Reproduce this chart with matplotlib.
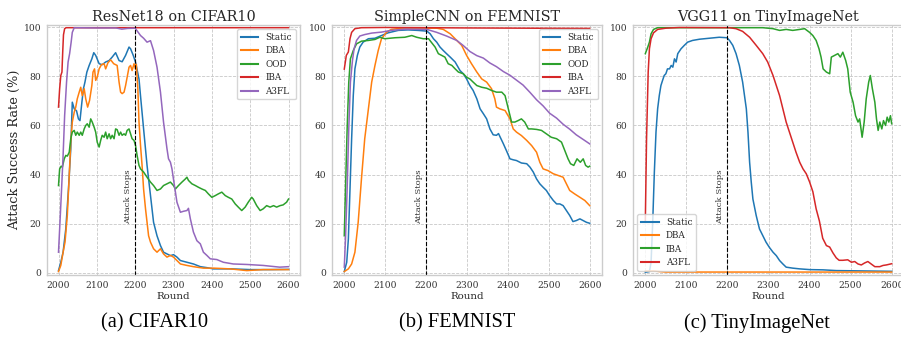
import matplotlib
matplotlib.use('Agg')
import matplotlib.pyplot as plt

plt.rcParams['font.family'] = 'serif'
plt.rcParams['font.serif'] = ['DejaVu Serif']
plt.rcParams['text.color'] = '#262626'
plt.rcParams['axes.labelcolor'] = '#262626'
plt.rcParams['xtick.color'] = '#333333'
plt.rcParams['ytick.color'] = '#333333'
plt.rcParams['xtick.major.size'] = 0
plt.rcParams['ytick.major.size'] = 0
plt.rcParams['xtick.major.pad'] = 4
plt.rcParams['ytick.major.pad'] = 4

# ---- (a) ResNet18 on CIFAR10 ----
a_static_x = [2000, 2006, 2012, 2019, 2026, 2032, 2036, 2041, 2047, 2052, 2056, 2061, 2065, 2069, 2074, 2080, 2087, 2092, 2097, 2106,
              2114, 2123, 2132, 2140, 2149, 2158, 2166, 2175, 2184, 2188, 2195, 2201, 2210, 2214, 2222, 2231, 2240, 2248, 2257, 2266,
              2274, 2283, 2292, 2300, 2309, 2318, 2335, 2352, 2370, 2387, 2404, 2450, 2500, 2550, 2600]
a_static_y = [0.8, 4.2, 8.3, 17.8, 34, 50.5, 69.5, 66.8, 66, 62.7, 62, 69.5, 75, 77.7, 81.8, 84.5, 87.2, 89.7, 88.6, 85.2,
              84.8, 85.9, 86.5, 87.9, 89.7, 86.5, 86, 88.6, 92, 91.3, 88.6, 85.8, 79, 72, 58.6, 43.7, 31.4, 20.5, 15, 11,
              8.3, 7.6, 6.9, 7.3, 6.3, 4.9, 4.2, 3.5, 2.4, 2, 1.5, 1.5, 1.2, 1.2, 1.3]
a_dba_x = [2000, 2006, 2012, 2017, 2023, 2028, 2032, 2036, 2041, 2045, 2049, 2054, 2058, 2062, 2067, 2071, 2076, 2081, 2087, 2090,
           2094, 2097, 2101, 2106, 2112, 2119, 2123, 2129, 2136, 2144, 2153, 2158, 2162, 2166, 2171, 2175, 2184, 2188, 2192, 2197,
           2201, 2203, 2207, 2210, 2214, 2218, 2222, 2227, 2231, 2235, 2240, 2248, 2257, 2266, 2274, 2283, 2292, 2300, 2309, 2318,
           2335, 2352, 2378, 2404, 2448, 2491, 2534, 2577, 2600]
a_dba_y = [0.4, 2.9, 8.3, 12.4, 23.3, 39.6, 53.2, 61.4, 65.4, 67.5, 70.9, 73.6, 75.6, 72.2, 75, 70.9, 67.5, 70.2, 76.3, 81.8,
           83.1, 78.4, 79.7, 83.1, 84.8, 85.2, 83.1, 85.6, 86.8, 85.2, 84.5, 77.7, 73.6, 73, 73.6, 76.3, 83.8, 84.5, 82.4, 85.2,
           83, 85, 75, 61.4, 51.8, 43.7, 34, 26, 20.5, 15, 12.4, 9.7, 8.3, 9.7, 7.6, 6.3, 7, 6.3, 4.9, 3.5,
           2.9, 2.4, 1.8, 1.8, 1.5, 0.8, 1.2, 1.2, 1.2]
a_ood_x = [2000, 2003, 2007, 2010, 2015, 2019, 2023, 2028, 2032, 2036, 2041, 2045, 2049, 2054, 2058, 2062, 2067, 2071, 2075, 2080,
           2084, 2088, 2093, 2097, 2101, 2106, 2110, 2114, 2119, 2123, 2127, 2132, 2136, 2140, 2145, 2149, 2153, 2158, 2162, 2166,
           2171, 2175, 2179, 2184, 2188, 2192, 2197, 2201, 2205, 2210, 2214, 2222, 2231, 2240, 2248, 2257, 2266, 2274, 2283, 2292,
           2300, 2305, 2313, 2322, 2331, 2335, 2339, 2348, 2357, 2365, 2374, 2383, 2391, 2400, 2409, 2417, 2426, 2435, 2443, 2452,
           2461, 2469, 2478, 2487, 2495, 2504, 2508, 2517, 2526, 2534, 2543, 2552, 2561, 2569, 2578, 2586, 2595, 2600]
a_ood_y = [35.5, 42.3, 43.4, 43, 46.4, 47.8, 47.5, 49.1, 54.6, 57.3, 58, 56, 57.3, 56, 57.3, 56, 58.6, 60, 60.7, 59.3,
           62.7, 61.4, 59.3, 57.3, 53.2, 51.2, 53.9, 56, 55.2, 57.3, 54.6, 56.6, 54.6, 56, 54.6, 58.6, 58.3, 56, 57.3, 56,
           56.6, 56, 58, 58.6, 56.6, 54.6, 53.9, 51.8, 47.8, 43.7, 42.3, 41, 38.9, 36.9, 35.5, 33.5, 34.1, 35.5, 36.2, 36.9,
           35.5, 34.1, 35.5, 36.9, 38.2, 38.9, 37.6, 36.2, 35.5, 34.8, 34.1, 33.5, 32.1, 30.7, 31.4, 32.1, 32.8, 31.4, 30.7, 30,
           28, 26.7, 25.3, 26.7, 28.7, 30.7, 30, 27.3, 25.3, 26, 27.3, 26.7, 27.3, 26.7, 27.3, 27.6, 28.7, 30]
a_iba_x = [2000, 2003, 2006, 2009, 2011, 2013, 2016, 2020, 2600]
a_iba_y = [67.5, 75, 80.4, 81.8, 90, 97, 99.5, 99.9, 99.9]
a_a3fl_x = [2000, 2003, 2008, 2012, 2016, 2021, 2025, 2029, 2033, 2036, 2041, 2100, 2150, 2165, 2180, 2200, 2214, 2222, 2231, 2240,
            2248, 2257, 2266, 2274, 2283, 2287, 2292, 2296, 2300, 2309, 2318, 2326, 2335, 2339, 2344, 2352, 2361, 2370, 2378, 2387,
            2396, 2413, 2430, 2456, 2491, 2534, 2577, 2600]
a_a3fl_y = [8.3, 17.8, 34, 47.8, 64, 77.7, 85.9, 89.3, 94, 98, 99.9, 99.8, 99.8, 99.3, 99.6, 99.7, 96.7, 95.6, 94, 94.6,
            90.6, 83.8, 73.6, 61.4, 50.5, 46.4, 45, 42.3, 38, 28.7, 24.6, 25, 25.3, 26.2, 21.9, 16.5, 13, 11.7, 8.3, 7,
            5.6, 5.3, 4.2, 3.5, 3.3, 2.9, 2.2, 2.4]

# ---- (b) SimpleCNN on FEMNIST ----
b_static_x = [2000, 2006, 2010, 2014, 2018, 2022, 2026, 2032, 2038, 2046, 2059, 2075, 2091, 2107, 2132, 2156, 2180, 2202, 2210, 2218,
              2226, 2234, 2242, 2250, 2259, 2271, 2283, 2291, 2299, 2307, 2315, 2324, 2332, 2340, 2348, 2356, 2364, 2372, 2377, 2389,
              2397, 2405, 2413, 2421, 2433, 2446, 2454, 2462, 2470, 2478, 2486, 2494, 2502, 2511, 2519, 2527, 2535, 2543, 2551, 2559,
              2567, 2576, 2584, 2592, 2600]
b_static_y = [0.4, 4.2, 13.7, 34, 54.6, 72.2, 83.1, 88.6, 92, 94, 95.4, 95.6, 96.7, 97.8, 98.8, 99, 98.8, 98.5, 97.4, 95.4,
              94, 92, 90.6, 89.3, 87.9, 85.9, 82.4, 81.1, 79, 76.3, 74.3, 70.9, 66.8, 64.8, 62.7, 58.6, 56.2, 56, 56.7, 52.5,
              49.5, 46.4, 46, 45.7, 44.7, 44.4, 43, 41, 38.2, 36.2, 34.8, 33.5, 31.4, 29.4, 28, 28, 27.3, 25.3, 23.3, 20.8,
              21.2, 21.9, 21.2, 20.5, 20.1]
b_dba_x = [2000, 2010, 2018, 2026, 2034, 2042, 2050, 2059, 2067, 2075, 2083, 2091, 2103, 2115, 2140, 2226, 2242, 2259, 2275, 2287,
           2299, 2311, 2324, 2336, 2348, 2360, 2368, 2372, 2380, 2393, 2405, 2413, 2421, 2433, 2446, 2458, 2470, 2478, 2486, 2498,
           2511, 2523, 2535, 2543, 2551, 2563, 2576, 2588, 2600]
b_dba_y = [0.4, 1.5, 3.5, 8.3, 20.5, 38.2, 54.6, 66.8, 77.7, 84.5, 90.6, 95.4, 98, 99.2, 99.7, 99.7, 99.2, 97.4, 94.7, 92.7,
           88.6, 85.2, 81.8, 79, 77.7, 75, 70.9, 67.5, 66.8, 66.1, 62.7, 58.6, 57.3, 55.9, 53.9, 51.8, 49.1, 45, 42.3, 41.6,
           40.3, 39.6, 38.9, 36.2, 33.5, 32.1, 30.7, 29.4, 27.3]
b_ood_x = [2000, 2003, 2007, 2011, 2015, 2022, 2030, 2042, 2059, 2075, 2087, 2099, 2124, 2148, 2165, 2177, 2193, 2206, 2214, 2222,
           2230, 2238, 2246, 2254, 2263, 2271, 2279, 2291, 2299, 2307, 2315, 2324, 2336, 2348, 2360, 2372, 2385, 2393, 2401, 2409,
           2417, 2425, 2433, 2441, 2450, 2458, 2470, 2482, 2494, 2506, 2519, 2531, 2539, 2547, 2553, 2561, 2569, 2577, 2584, 2590,
           2596, 2600]
b_ood_y = [15, 34, 58.6, 77.7, 87.2, 90.6, 93.3, 94.4, 94.7, 95.1, 96, 95.4, 95.8, 96, 96.7, 96, 95.4, 95.4, 93.7, 92,
           89.3, 88.6, 87.9, 85.2, 84.5, 83.1, 81.8, 81.1, 79.7, 79, 77.7, 76.3, 75.6, 75.2, 74.3, 73.6, 73.6, 72.2, 66.8, 61.4,
           61.4, 62, 62.7, 61.4, 58.6, 58.6, 58.4, 58, 56.6, 55.2, 54.6, 53.2, 49.8, 46.4, 44.4, 43.7, 46.4, 45, 46.4, 43.7,
           43, 43.4]
b_iba_x = [2000, 2005, 2010, 2014, 2018, 2026, 2042, 2100, 2300, 2600]
b_iba_y = [83, 88.6, 90, 95.4, 98, 99.5, 99.9, 100, 99.8, 99.6]
b_a3fl_x = [2000, 2003, 2007, 2011, 2015, 2020, 2024, 2030, 2038, 2050, 2067, 2091, 2115, 2148, 2202, 2226, 2250, 2275, 2291, 2307,
            2324, 2340, 2356, 2372, 2389, 2405, 2421, 2437, 2454, 2470, 2486, 2502, 2519, 2535, 2551, 2567, 2584, 2600]
b_a3fl_y = [2.2, 13.7, 34, 58.6, 77.7, 86.5, 91.3, 94.7, 96.5, 97.1, 97.7, 98.1, 98.8, 99.3, 99.2, 98, 96.5, 94.7, 92.6, 90.2,
            88.5, 87.5, 85.5, 84, 82, 80.5, 78.5, 76.5, 73.5, 70.5, 68, 65, 63, 60.5, 58.5, 56.2, 54.3, 52.5]

# ---- (c) VGG11 on TinyImageNet ----
c_static_x = [2000, 2010, 2014, 2018, 2022, 2026, 2030, 2034, 2038, 2042, 2046, 2050, 2054, 2059, 2063, 2067, 2071, 2075, 2079, 2087,
              2095, 2103, 2115, 2132, 2156, 2180, 2199, 2205, 2213, 2221, 2229, 2237, 2246, 2250, 2254, 2258, 2262, 2270, 2278, 2286,
              2294, 2302, 2311, 2319, 2327, 2335, 2343, 2359, 2376, 2400, 2433, 2465, 2514, 2600]
c_static_y = [0.1, 0.4, 4.2, 20.5, 41, 57.3, 66.8, 72.2, 76.3, 78.4, 80.4, 81.1, 83.1, 83.1, 84.5, 83.8, 87.2, 85.9, 89.3, 91.3,
              92.7, 94, 94.7, 95.2, 95.6, 96, 95.8, 94.7, 92.7, 89.3, 84.5, 77.7, 66.8, 57.3, 45, 36.9, 30, 23.3, 17.8, 15.1,
              12.4, 10.3, 8.3, 6.9, 4.9, 3.5, 2.2, 1.8, 1.5, 1.2, 1.1, 0.8, 0.7, 0.5]
c_dba_x = [2000, 2020, 2035, 2050, 2600]
c_dba_y = [0.6, 0.7, 0.4, 0.2, 0.2]
c_iba_x = [2000, 2006, 2010, 2014, 2020, 2030, 2100, 2286, 2311, 2327, 2343, 2359, 2376, 2388, 2400, 2408, 2416, 2423, 2428, 2433,
           2441, 2449, 2453, 2461, 2469, 2475, 2481, 2488, 2493, 2499, 2506, 2512, 2518, 2522, 2528, 2533, 2538, 2544, 2548, 2553,
           2559, 2563, 2567, 2571, 2576, 2580, 2585, 2589, 2593, 2597, 2600]
c_iba_y = [89.3, 92, 94, 97.4, 99.2, 99.9, 99.9, 99.9, 99.5, 98.8, 99.2, 98.8, 99.2, 99.5, 98, 96.7, 94.7, 91.3, 87.9, 83.1,
           81.8, 81.1, 87.9, 88.6, 89.3, 87.9, 89.9, 86.5, 83.1, 73.6, 69.5, 64, 61.4, 62.7, 55.2, 61.4, 70.9, 77.7, 80.4, 75,
           69.5, 62.7, 58, 61.4, 58.6, 62, 60, 63.4, 61.4, 64, 60.7]
c_a3fl_x = [2000, 2003, 2007, 2010, 2014, 2020, 2030, 2050, 2083, 2205, 2221, 2237, 2254, 2270, 2286, 2298, 2311, 2319, 2327, 2335,
            2343, 2351, 2359, 2367, 2376, 2384, 2392, 2400, 2408, 2416, 2424, 2432, 2441, 2449, 2457, 2465, 2472, 2481, 2493, 2502,
            2510, 2518, 2526, 2534, 2542, 2550, 2559, 2571, 2579, 2587, 2600]
c_a3fl_y = [20.5, 54.6, 81.8, 91.3, 95.4, 97.8, 99.2, 99.7, 100, 99.9, 99.5, 98.4, 96, 92.7, 89.3, 85.9, 80.4, 76.3, 72.2, 66.8,
            61.4, 57.3, 53.2, 49.1, 45, 42.3, 40.3, 37, 33, 26, 21, 14, 11, 10.4, 8, 6, 5, 5, 5.2, 4.2,
            4.5, 3.5, 3.1, 3.9, 4.5, 3.5, 2.4, 2.4, 2.9, 3.1, 3.6]

colors = ['#1f77b4', '#ff7f0e', '#2ca02c', '#d62728', '#9467bd']

panels = [
    ('ResNet18 on CIFAR10', '(a) CIFAR10', 'upper right',
     [(a_static_x, a_static_y, 'Static'), (a_dba_x, a_dba_y, 'DBA'), (a_ood_x, a_ood_y, 'OOD'),
      (a_iba_x, a_iba_y, 'IBA'), (a_a3fl_x, a_a3fl_y, 'A3FL')]),
    ('SimpleCNN on FEMNIST', '(b) FEMNIST', 'upper right',
     [(b_static_x, b_static_y, 'Static'), (b_dba_x, b_dba_y, 'DBA'), (b_ood_x, b_ood_y, 'OOD'),
      (b_iba_x, b_iba_y, 'IBA'), (b_a3fl_x, b_a3fl_y, 'A3FL')]),
    ('VGG11 on TinyImageNet', '(c) TinyImageNet', 'lower left',
     [(c_static_x, c_static_y, 'Static'), (c_dba_x, c_dba_y, 'DBA'),
      (c_iba_x, c_iba_y, 'IBA'), (c_a3fl_x, c_a3fl_y, 'A3FL')]),
]

# axes boxes in pixels (left, right) of the 901 px wide figure
boxes = [(47, 300), (332, 602), (633, 904)]
caption_x = [155, 457, 757]

fig = plt.figure(figsize=(9.01, 3.37), dpi=100)

for i, (title, caption, loc, series) in enumerate(panels):
    l, r = boxes[i]
    ax = fig.add_axes([l / 901, 62 / 337, (r - l) / 901, 250 / 337])
    ax.set_facecolor('white')
    for s in ax.spines.values():
        s.set_color('#cccccc')
        s.set_linewidth(1.0)
    ax.grid(True, linestyle='--', color='#c8c8c8', linewidth=0.6)
    ax.set_axisbelow(True)
    for j, (x, y, lab) in enumerate(series):
        ax.plot(x, y, color=colors[j], linewidth=1.1, label=lab)
    ax.axvline(2200, color='black', linestyle='--', linewidth=0.8)
    ax.text(2192, 20, 'Attack Stops', rotation=90, ha='right', va='bottom', fontsize=6.1, color='#333333')
    ax.set_xlim(1970, 2630)
    ax.set_ylim(-1, 101)
    ax.set_xticks(range(2000, 2601, 100))
    ax.set_yticks(range(0, 101, 20))
    ax.tick_params(labelsize=6.6)
    ax.set_xlabel('Round', fontsize=7.4, labelpad=1.5)
    ax.set_title(title, fontsize=10.4, pad=3)
    if i == 0:
        ax.set_ylabel('Attack Success Rate (%)', fontsize=9.4, labelpad=2)
    leg = ax.legend(loc=loc, fontsize=6.4, frameon=True, edgecolor='#cccccc')
    for ln in leg.get_lines():
        ln.set_linewidth(1.5)
    fig.text(caption_x[i] / 901, 0.042, caption, ha='center', va='center', fontsize=14.8,
             family='Liberation Serif', color='black')

fig.savefig('out.png', dpi=100)
